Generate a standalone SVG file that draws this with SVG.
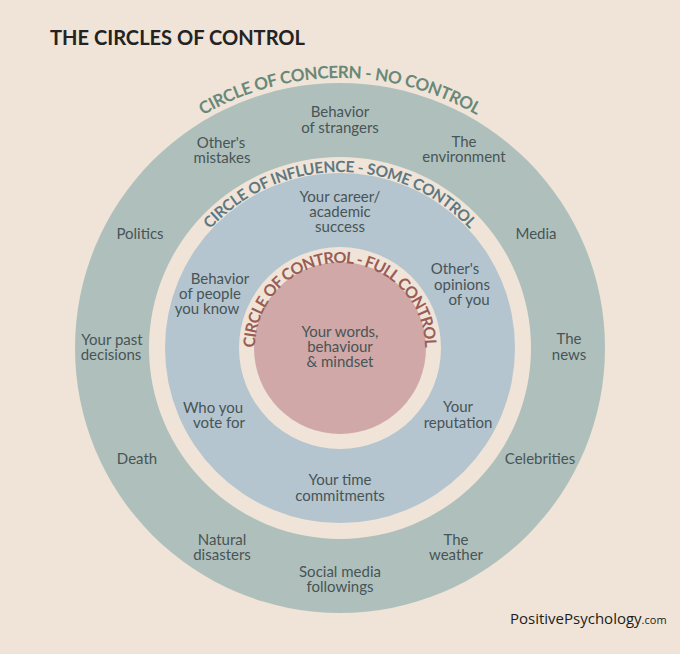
<svg xmlns="http://www.w3.org/2000/svg" width="680" height="654" viewBox="0 0 680 654">
  <style>
    .t { font-family: Lato, "Noto Sans", "Liberation Sans", sans-serif; font-size: 15px; fill: #485456; text-anchor: middle; }
    .arc { font-family: Lato, "Noto Sans", "Liberation Sans", sans-serif; font-weight: 700; text-anchor: middle; }
    .concern { fill: #6a8878; font-size: 17px; }
    .influence { fill: #5e7883; font-size: 15.5px; }
    .control { fill: #9a5c56; font-size: 16px; }
    .title { font-family: Lato, "Noto Sans", "Liberation Sans", sans-serif; font-weight: 700; font-size: 20px; fill: #232323; }
    .wm { font-family: "Open Sans", "Liberation Sans", sans-serif; fill: #1c1c1c; }
  </style>
  <defs>
    <path id="pConcern" d="M 70 348 A 270 270 0 0 1 610 348"/>
    <path id="pInfluence" d="M 164 348 A 176 176 0 0 1 516 348"/>
    <path id="pControl" d="M 255 348 A 85 85 0 0 1 425 348"/>
  </defs>
  <rect width="680" height="654" fill="#efe4d7"/>

  <g id="rings">
    <circle cx="340" cy="348" r="265" fill="#afc0bc"/>
    <circle cx="340" cy="348" r="191" fill="#efe4d7"/>
    <circle cx="340" cy="348" r="175" fill="#b4c5cf"/>
    <circle cx="340" cy="348" r="101" fill="#efe4d7"/>
    <circle cx="340" cy="348" r="86" fill="#cfa8a7"/>
  </g>

  <g id="connectors"/>

  <g id="title"><text class="title" x="50" y="45" textLength="255" lengthAdjust="spacingAndGlyphs">THE CIRCLES OF CONTROL</text></g>

  <g id="circle-labels">
    <text class="arc concern"><textPath href="#pConcern" startOffset="50%" textLength="287" lengthAdjust="spacing">CIRCLE OF CONCERN - NO CONTROL</textPath></text>
    <text class="arc influence"><textPath href="#pInfluence" startOffset="50%" textLength="292" lengthAdjust="spacing">CIRCLE OF INFLUENCE - SOME CONTROL</textPath></text>
    <text class="arc control"><textPath href="#pControl" startOffset="50%" textLength="266" lengthAdjust="spacing">CIRCLE OF CONTROL - FULL CONTROL</textPath></text>
  </g>

  <g id="concern-items">
    <g id="n-strangers"><text class="t" x="340" y="117">Behavior</text><text class="t" x="340" y="133">of strangers</text></g>
    <g id="n-mistakes"><text class="t" x="221" y="148">Other's</text><text class="t" x="222" y="163">mistakes</text></g>
    <g id="n-environment"><text class="t" x="464" y="147">The</text><text class="t" x="464" y="162">environment</text></g>
    <g id="n-politics"><text class="t" x="140" y="239">Politics</text></g>
    <g id="n-media"><text class="t" x="536" y="239">Media</text></g>
    <g id="n-past"><text class="t" x="112" y="345">Your past</text><text class="t" x="111" y="360">decisions</text></g>
    <g id="n-news"><text class="t" x="569" y="344">The</text><text class="t" x="569" y="360">news</text></g>
    <g id="n-death"><text class="t" x="137" y="464">Death</text></g>
    <g id="n-celebrities"><text class="t" x="540" y="464">Celebrities</text></g>
    <g id="n-disasters"><text class="t" x="222" y="545">Natural</text><text class="t" x="222" y="560">disasters</text></g>
    <g id="n-weather"><text class="t" x="456" y="545">The</text><text class="t" x="456" y="560">weather</text></g>
    <g id="n-social"><text class="t" x="340" y="577">Social media</text><text class="t" x="340" y="592">followings</text></g>
  </g>

  <g id="influence-items">
    <g id="n-career"><text class="t" x="340" y="202">Your career/</text><text class="t" x="340" y="217">academic</text><text class="t" x="340" y="232">success</text></g>
    <g id="n-people"><text class="t" x="220" y="284">Behavior</text><text class="t" x="210" y="299">of people</text><text class="t" x="207" y="314">you know</text></g>
    <g id="n-opinions"><text class="t" x="455" y="274">Other's</text><text class="t" x="462" y="290">opinions</text><text class="t" x="469" y="305">of you</text></g>
    <g id="n-vote"><text class="t" x="213" y="413">Who you</text><text class="t" x="219" y="428">vote for</text></g>
    <g id="n-reputation"><text class="t" x="458" y="412">Your</text><text class="t" x="458" y="428">reputation</text></g>
    <g id="n-time"><text class="t" x="340" y="485">Your time</text><text class="t" x="340" y="501">commitments</text></g>
  </g>

  <g id="control-items">
    <g id="n-words"><text class="t" x="340" y="337">Your words,</text><text class="t" x="340" y="352">behaviour</text><text class="t" x="340" y="367">&amp; mindset</text></g>
  </g>

  <g id="watermark"><text class="wm" x="510" y="624"><tspan font-size="15">PositivePsychology</tspan><tspan font-size="11">.com</tspan></text></g>
</svg>
